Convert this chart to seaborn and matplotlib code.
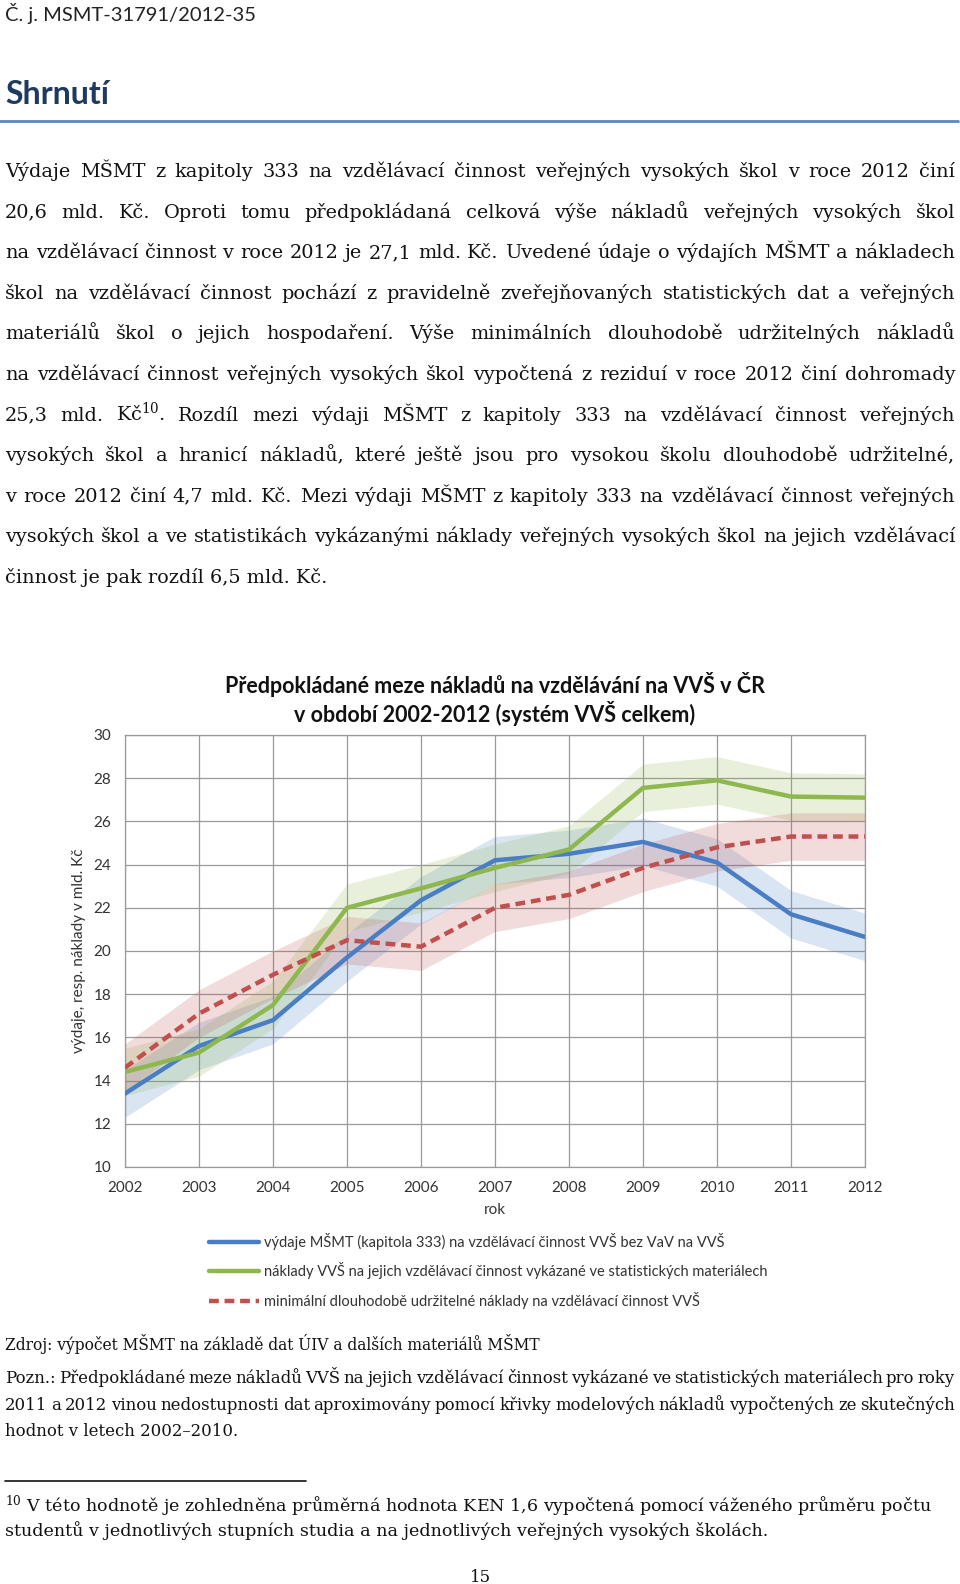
import matplotlib
matplotlib.use('Agg')
import matplotlib.pyplot as plt
import pandas as pd
import seaborn as sns
from matplotlib.lines import Line2D

# Data (mld. Kc)
years = list(range(2002, 2013))
vydaje_msmt = [13.4, 15.6, 16.8, 19.7, 22.35, 24.2, 24.5, 25.05, 24.1, 21.7, 20.65]
naklady_vvs = [14.4, 15.3, 17.5, 22.0, 22.9, 23.85, 24.7, 27.55, 27.9, 27.15, 27.1]
min_naklady = [14.6, 17.1, 18.9, 20.5, 20.2, 22.0, 22.6, 23.85, 24.8, 25.3, 25.3]
band_halfwidth = 1.1

series_names = [
    'výdaje MŠMT (kapitola 333) na vzdělávací činnost VVŠ bez VaV na VVŠ',
    'náklady VVŠ na jejich vzdělávací činnost vykázané ve statistických materiálech',
    'minimální dlouhodobě udržitelné náklady na vzdělávací činnost VVŠ',
]
colors = ['#4A7EC4', '#8EB84F', '#C0504D']
y_ticks = list(range(10, 31, 2))

chart_title = ('Předpokládané meze nákladů na vzdělávání na VVŠ v ČR\n'
               'v období 2002-2012 (systém VVŠ celkem)')

header = 'Č. j. MSMT-31791/2012-35'
heading = 'Shrnutí'
body_lines = [
    'Výdaje MŠMT z kapitoly 333 na vzdělávací činnost veřejných vysokých škol v roce 2012 činí',
    '20,6 mld. Kč. Oproti tomu předpokládaná celková výše nákladů veřejných vysokých škol',
    'na vzdělávací činnost v roce 2012 je 27,1 mld. Kč. Uvedené údaje o výdajích MŠMT a nákladech',
    'škol na vzdělávací činnost pochází z pravidelně zveřejňovaných statistických dat a veřejných',
    'materiálů škol o jejich hospodaření. Výše minimálních dlouhodobě udržitelných nákladů',
    'na vzdělávací činnost veřejných vysokých škol vypočtená z reziduí v roce 2012 činí dohromady',
    '25,3 mld. Kč$^{10}$. Rozdíl mezi výdaji MŠMT z kapitoly 333 na vzdělávací činnost veřejných',
    'vysokých škol a hranicí nákladů, které ještě jsou pro vysokou školu dlouhodobě udržitelné,',
    'v roce 2012 činí 4,7 mld. Kč. Mezi výdaji MŠMT z kapitoly 333 na vzdělávací činnost veřejných',
    'vysokých škol a ve statistikách vykázanými náklady veřejných vysokých škol na jejich vzdělávací',
    'činnost je pak rozdíl 6,5 mld. Kč.',
]
source = 'Zdroj: výpočet MŠMT na základě dat ÚIV a dalších materiálů MŠMT'
note_lines = [
    'Pozn.: Předpokládané meze nákladů VVŠ na jejich vzdělávací činnost vykázané ve statistických materiálech pro roky',
    '2011 a 2012 vinou nedostupnosti dat aproximovány pomocí křivky modelových nákladů vypočtených ze skutečných',
    'hodnot v letech 2002–2010.',
]
footnote_lines = [
    '$^{10}$ V této hodnotě je zohledněna průměrná hodnota KEN 1,6 vypočtená pomocí váženého průměru počtu',
    'studentů v jednotlivých stupních studia a na jednotlivých veřejných vysokých školách.',
]
page_number = '15'

# Long table for seaborn
df = pd.DataFrame({
    'rok': years * 3,
    'hodnota': vydaje_msmt + naklady_vvs + min_naklady,
    'serie': [series_names[0]] * len(years) + [series_names[1]] * len(years)
             + [series_names[2]] * len(years),
})

sns.set_theme(style='white')
plt.rcParams['font.family'] = ['DejaVu Serif']
plt.rcParams['mathtext.fontset'] = 'dejavuserif'

W, H = 960, 1584
fig = plt.figure(figsize=(W / 100, H / 100), dpi=100)
renderer = fig.canvas.get_renderer()

SERIF = 'DejaVu Serif'
SANS = 'Lato'


def fy(y):
    return 1 - y / H


def justify(line, y, x0, x1, size, stretch=True):
    words = line.split(' ')
    if not stretch:
        fig.text(x0 / W, fy(y), line, fontsize=size, family=SERIF, va='baseline', color='#111111')
        return
    arts = [fig.text(0, fy(y), w, fontsize=size, family=SERIF, va='baseline', color='#111111')
            for w in words]
    widths = [a.get_window_extent(renderer).width for a in arts]
    gap = (x1 - x0 - sum(widths)) / (len(words) - 1)
    x = x0
    for a, w in zip(arts, widths):
        a.set_x(x / W)
        x += w + gap


# Page header
fig.text(5 / W, fy(13), header, fontsize=14.5, family=SANS, va='center', color='#222222')
fig.text(5 / W, fy(94), heading, fontsize=23, family=SANS, fontweight='bold', va='center',
         color='#1F3A5F')
fig.add_artist(Line2D([0, 0.998], [fy(121), fy(121)], transform=fig.transFigure,
                      color='#5B86BE', lw=2))

# Body paragraph
for i, line in enumerate(body_lines):
    justify(line, 177 + i * 40.6, 5, 955, 13.9, stretch=i < len(body_lines) - 1)

# Chart
ax = fig.add_axes([125 / W, 1 - 1167 / H, 740 / W, 432 / H])
for vals, c in zip([vydaje_msmt, naklady_vvs, min_naklady], colors):
    ax.fill_between(years, [v - band_halfwidth for v in vals], [v + band_halfwidth for v in vals],
                    color=c, alpha=0.2, lw=0, zorder=1)
sns.lineplot(data=df, x='rok', y='hodnota', hue='serie', style='serie',
             palette=dict(zip(series_names, colors)),
             dashes={series_names[0]: '', series_names[1]: '', series_names[2]: (2.2, 1.3)},
             lw=3.2, ax=ax, zorder=3)
ax.set_xlim(2002, 2012)
ax.set_ylim(10, 30)
ax.set_xticks(years)
ax.set_yticks(y_ticks)
ax.grid(True, color='#9A9A9A', lw=0.9)
for s in ax.spines.values():
    s.set_color('#9A9A9A')
    s.set_linewidth(0.9)
ax.tick_params(length=0, labelsize=11, colors='#333333', pad=10)
for lab in ax.get_xticklabels() + ax.get_yticklabels():
    lab.set_family(SANS)
ax.set_xlabel('rok', fontsize=11, family=SANS, color='#333333', labelpad=6)
ax.set_ylabel('výdaje, resp. náklady v mld. Kč', fontsize=11, family=SANS, color='#333333',
              labelpad=5)
ax.set_title(chart_title, fontsize=15.5, family=SANS, fontweight='bold', color='#111111',
             pad=9, linespacing=1.2)

handles, labels = ax.get_legend_handles_labels()
leg = ax.legend(handles, labels, loc='upper left', bbox_to_anchor=(209 / W, fy(1233)),
                bbox_transform=fig.transFigure, frameon=False, fontsize=10.5,
                handlelength=3.4, labelspacing=0.85, handletextpad=0.4,
                borderpad=0, borderaxespad=0)
for t in leg.get_texts():
    t.set_family(SANS)
    t.set_color('#333333')
for h in leg.get_lines():
    h.set_linewidth(3.2)

# Source and note
fig.text(5 / W, fy(1350), source, fontsize=11.2, family=SERIF, va='baseline', color='#111111')
for i, line in enumerate(note_lines):
    justify(line, 1383 + i * 26.5, 5, 955, 11.9, stretch=i < len(note_lines) - 1)

# Footnote
fig.add_artist(Line2D([5 / W, 306 / W], [fy(1481), fy(1481)], transform=fig.transFigure,
                      color='#111111', lw=1.2))
for i, line in enumerate(footnote_lines):
    fig.text(5 / W, fy(1512 + i * 24.5), line, fontsize=12.6, family=SERIF, va='baseline',
             color='#111111')
fig.text(480 / W, fy(1577), page_number, fontsize=12, family=SERIF, ha='center', va='center',
         color='#111111')

fig.savefig('out.png', dpi=100)
